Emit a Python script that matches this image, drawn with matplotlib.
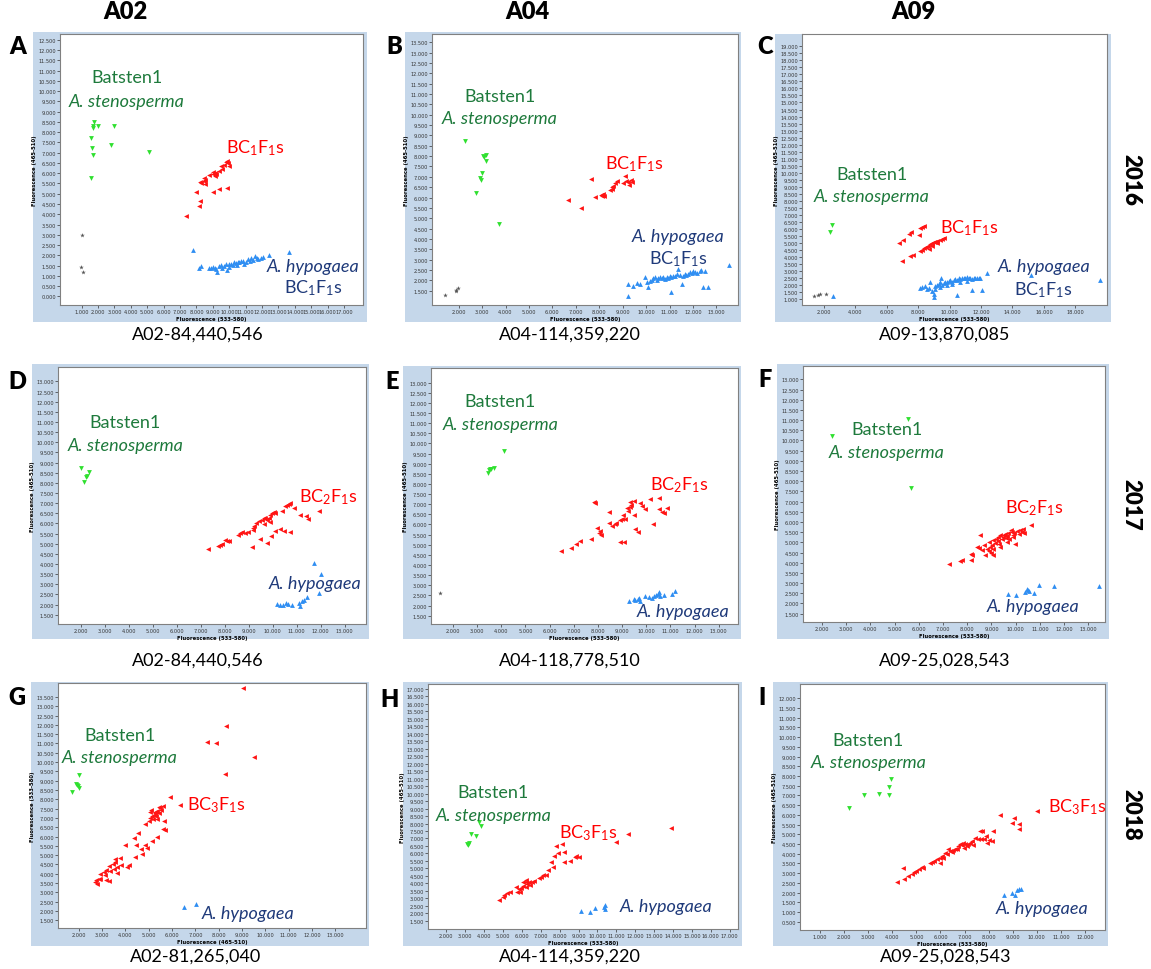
import matplotlib
matplotlib.use("Agg")
import matplotlib.pyplot as plt
from matplotlib.patches import Rectangle
from matplotlib.ticker import FuncFormatter

plt.rcParams['font.family'] = ['Lato', 'DejaVu Sans']
plt.rcParams['mathtext.fontset'] = 'custom'
plt.rcParams['mathtext.rm'] = 'Lato'
plt.rcParams['mathtext.it'] = 'Lato:italic'
plt.rcParams['mathtext.bf'] = 'Lato:bold'

W, H = 1151, 970

columns = ['A02', 'A04', 'A09']
years = ['2016', '2017', '2018']
letters = ['A', 'B', 'C', 'D', 'E', 'F', 'G', 'H', 'I']
markers_snp = ['A02-84,440,546', 'A04-114,359,220', 'A09-13,870,085',
               'A02-84,440,546', 'A04-118,778,510', 'A09-25,028,543',
               'A02-81,265,040', 'A04-114,359,220', 'A09-25,028,543']
generations = ['BC$_1$F$_1$s', 'BC$_2$F$_1$s', 'BC$_3$F$_1$s']

# fluorescence readings (x, y) per panel and genotype group
a_sten = [(1770, 8470), (1670, 8280), (1680, 8200), (2030, 8280), (2980, 8280), (1550, 7710), (1610, 7220),
          (1710, 6880), (2820, 7390), (5090, 7010), (1590, 5760)]
a_ntc = [(1000, 2990), (980, 1410), (1100, 1170)]
a_bc = [(7380, 3900), (7980, 5070), (8130, 4420), (8190, 4660), (8290, 5520), (8430, 5630), (8430, 5750),
        (8550, 5470), (8510, 5680), (8790, 5930), (9000, 5960), (9100, 6010), (9200, 5960), (9160, 5880),
        (9400, 6120), (9500, 6330), (9560, 6200), (9700, 6400), (9870, 6610), (9910, 6490), (9970, 6330),
        (9810, 6560), (9000, 5100), (9400, 5230), (9870, 5280), (8190, 5580), (9000, 6040)]
a_hyp = [(7780, 2270), (8150, 1360), (8250, 1460), (8790, 1400), (8900, 1360), (9000, 1450), (9100, 1400),
         (9240, 1170), (9400, 1460), (9500, 1530), (9560, 1360), (9700, 1490), (9810, 1560), (9870, 1300),
         (9970, 1560), (10110, 1590), (10210, 1530), (10310, 1660), (10410, 1620), (10510, 1690), (10620, 1660),
         (10720, 1740), (10820, 1700), (11020, 1660), (11120, 1820), (11260, 1720), (11320, 1850), (11430, 1790),
         (11590, 1950), (11670, 1880), (11730, 1820), (11930, 1850), (12030, 1920), (12440, 2010), (13610, 2180),
         (9200, 1330), (10010, 1410), (10470, 1530), (10920, 1580)]

b_sten = [(2260, 8710), (3040, 8020), (3180, 8050), (3090, 7940), (3180, 7750), (3010, 7180), (2920, 6940),
          (2970, 6850), (2740, 6200), (3730, 4740)]
b_ntc = [(1430, 1310), (1900, 1530), (1960, 1630), (1870, 1470)]
b_bc = [(6660, 5880), (7210, 5490), (7650, 6890), (7820, 6040), (8060, 6120), (8150, 6170), (8200, 6060),
        (8130, 6090), (8460, 6360), (8530, 6490), (8600, 6570), (8670, 6700), (8740, 6810), (8560, 6410),
        (9100, 7060), (9130, 6810), (9240, 6770), (9340, 6860), (9380, 6730), (9280, 6610), (9030, 6700)]
b_hyp = [(9240, 1820), (9450, 1740), (9240, 1260), (9740, 1820), (9950, 2140), (10020, 1900), (10060, 1690),
         (10160, 1980), (10300, 2100), (10450, 2030), (10590, 2140), (10730, 2140), (10870, 2140), (11010, 2190),
         (11160, 2230), (11300, 2310), (11340, 2550), (11440, 2260), (11580, 2230), (11510, 1820), (11720, 2260),
         (11870, 2390), (12010, 2470), (12150, 2350), (12290, 2470), (12360, 2520), (12500, 2430), (12430, 1660),
         (12650, 1660), (11080, 1420), (9590, 1850), (13540, 2740), (10230, 2030), (10380, 2140), (10520, 2100),
         (10660, 2100), (10800, 2060), (10940, 2100), (11080, 2140), (11230, 2190), (11650, 2310), (11790, 2310),
         (11940, 2340), (12080, 2420)]

c_sten = [(2530, 6270), (2420, 5750)]
c_ntc = [(1360, 1190), (1620, 1290), (1750, 1360), (2150, 1330)]
c_bc = [(6770, 4970), (7040, 5230), (7400, 5630), (7570, 5800), (6980, 3730), (7470, 4040), (7680, 4140),
        (8140, 4400), (8250, 4520), (8400, 4610), (8530, 4730), (8630, 4800), (8780, 4900), (8890, 4970),
        (8990, 5040), (9100, 5090), (9200, 5130), (9370, 5200), (9520, 5280), (9630, 5320), (8250, 6150),
        (8400, 6230), (8140, 6040), (8040, 5560), (8670, 4560), (8890, 4750), (9200, 4990)]
c_hyp = [(2590, 1190), (8100, 1760), (8250, 1830), (8460, 1900), (8670, 1760), (8780, 2240), (8890, 1590),
         (8990, 1360), (9030, 1170), (9100, 1900), (9200, 2000), (9310, 2070), (9420, 2190), (9460, 2470),
         (9520, 2000), (9630, 2140), (9730, 2190), (9840, 2240), (9950, 2280), (10050, 2330), (10160, 2240),
         (10260, 2330), (10370, 2430), (10480, 2380), (10580, 2470), (10690, 2430), (10790, 2520), (10900, 2470),
         (11000, 2520), (11110, 2540), (11220, 2470), (11320, 2520), (11430, 2430), (11530, 2470), (11640, 2520),
         (11750, 2470), (11850, 2520), (11960, 2520), (12380, 2850), (12060, 1670), (11430, 1670), (10480, 1290),
         (9420, 1830), (9840, 2000), (15200, 2710), (19590, 2350), (9100, 1710), (8570, 1710), (10160, 2070),
         (10690, 2190), (11110, 2310)]

d_sten = [(2030, 8720), (2130, 8060), (2270, 8360), (2350, 8520), (2210, 8280)]
d_bc = [(7320, 4740), (7740, 4910), (7810, 4940), (7880, 4990), (8020, 5180), (8090, 5120), (8160, 5150),
        (8570, 5450), (8640, 5530), (8710, 5560), (8850, 5530), (8990, 5560), (9170, 5660), (9200, 5760),
        (9230, 5890), (9310, 6010), (9410, 6110), (9550, 6190), (9620, 6250), (9690, 6290), (9760, 6190),
        (9830, 6290), (9900, 6390), (9970, 6500), (10040, 6580), (10110, 6520), (10380, 6630), (10520, 6880),
        (10590, 6910), (10660, 6960), (10730, 7010), (10870, 6760), (11120, 6420), (11400, 6350), (11460, 6220),
        (11920, 6620), (9130, 4860), (9480, 5230), (9760, 5040), (9930, 5400), (10110, 5610), (10290, 5710),
        (10480, 5610), (10710, 5580), (9900, 6090), (9620, 5970)]
d_hyp = [(10180, 2030), (10320, 1980), (10450, 1980), (10570, 2080), (10620, 2010), (10800, 1980), (11080, 2080),
         (11120, 1940), (11220, 2190), (11290, 2240), (11430, 2390), (11710, 4030), (12010, 3510), (11920, 2570)]

e_sten = [(4120, 9620), (3680, 8780), (3590, 8720), (3480, 8670), (3430, 8540), (3520, 8750)]
e_ntc = [(1480, 2600)]
e_bc = [(6480, 4710), (6900, 4840), (7100, 5040), (7240, 5170), (7710, 5260), (7820, 7100), (7890, 7070),
        (7960, 5830), (8030, 5590), (8100, 5700), (8140, 5500), (8480, 6640), (8480, 6060), (8580, 5950),
        (8690, 6030), (8760, 6060), (8900, 6230), (8990, 6280), (9030, 6490), (9130, 6280), (9200, 6810),
        (9230, 6690), (9310, 6850), (9340, 7100), (9370, 6970), (9480, 7150), (9500, 6490), (9550, 5780),
        (9640, 5650), (9750, 7070), (9820, 6900), (9960, 6770), (8920, 5160), (9090, 5120), (10140, 7270),
        (10510, 7320), (10550, 6770), (10650, 6640), (10720, 6570), (10880, 6820), (10300, 6030)]
e_hyp = [(9270, 2240), (9480, 2320), (9550, 2290), (9640, 2320), (9720, 2360), (9750, 2240), (9960, 2490),
         (10100, 2410), (10230, 2360), (10330, 2490), (10410, 2520), (10470, 2570), (10550, 2690), (10580, 2490),
         (10750, 2540), (11060, 2570), (11200, 2740)]

f_sten = [(2410, 10210), (5540, 11070), (5670, 7670)]
f_bc = [(7230, 3920), (7710, 4090), (7780, 4150), (8150, 4450), (8160, 4150), (8190, 4360), (8470, 4720),
        (8530, 5380), (8600, 4610), (8700, 4860), (8740, 4400), (8810, 4690), (8880, 5020), (8950, 4770),
        (8970, 4500), (9020, 4890), (9060, 5100), (9080, 4660), (9150, 4990), (9190, 5180), (9250, 5050),
        (9290, 5260), (9330, 4940), (9360, 5350), (9430, 5150), (9470, 5260), (9520, 5350), (9570, 5430),
        (9610, 5220), (9660, 5310), (9700, 5480), (9740, 5150), (9800, 5590), (9840, 5510), (9880, 5380),
        (9940, 5480), (9980, 4940), (10050, 5540), (10120, 5430), (10180, 5590), (10250, 5510), (10320, 5670),
        (10360, 5480), (10640, 5840), (9080, 4360), (8880, 4560), (9360, 4770), (9630, 5020), (8400, 4770),
        (9910, 5260)]
f_hyp = [(9700, 2480), (10010, 2430), (10390, 2560), (10460, 2730), (10500, 2650), (10570, 2600), (10760, 2530),
         (10980, 2890), (11600, 2840), (13460, 2840)]

g_sten = [(2000, 9300), (1900, 8850), (1960, 8720), (2000, 8620), (1710, 8400), (1930, 8790)]
g_bc = [(9040, 13960), (8330, 11930), (7500, 11090), (7900, 11050), (9530, 10300), (8270, 9350), (5930, 8100),
        (6360, 7720), (5600, 7630), (5500, 7540), (5530, 7410), (5430, 7290), (5360, 7380), (5290, 7240),
        (5210, 7150), (5140, 7090), (5070, 7000), (5040, 7320), (5000, 6840), (4830, 6700), (5640, 6820),
        (5360, 6930), (5260, 7320), (5100, 7450), (5330, 7110), (5190, 6970), (5430, 7590), (5690, 6340),
        (5610, 6430), (5360, 5980), (5140, 5750), (4860, 5530), (4930, 5390), (4710, 5050), (4470, 5530),
        (4360, 5930), (4000, 5530), (3790, 4850), (3640, 4370), (3570, 4780), (3810, 4490), (3570, 4640),
        (3470, 4550), (3500, 4280), (3290, 4420), (3190, 4190), (3070, 4100), (2930, 4010), (2860, 3740),
        (2710, 3560), (2790, 3470), (3140, 3920), (3360, 4130), (4140, 4490), (4070, 4370), (4430, 4910),
        (4670, 5320), (3640, 4060), (3290, 3600), (3190, 3650), (2930, 3700), (2760, 3650), (4530, 6200)]
g_hyp = [(6500, 2220), (7040, 2400)]

h_sten = [(3710, 8130), (3820, 7860), (3320, 7300), (3590, 7190), (3090, 6630), (3200, 6700), (3150, 6570)]
h_bc = [(4790, 2910), (5000, 3060), (5050, 3220), (5210, 3330), (5390, 3400), (5700, 3730), (5740, 3440),
        (5850, 3620), (5970, 3670), (6060, 3800), (6200, 4220), (6230, 4070), (6290, 3960), (6370, 4110),
        (6440, 3890), (6550, 4070), (6620, 4180), (6900, 4340), (7030, 4450), (7120, 4560), (7290, 4560),
        (7380, 4920), (7640, 5070), (7560, 5450), (7700, 5850), (7820, 6520), (7910, 6030), (8140, 6630),
        (8210, 6120), (8230, 5410), (8530, 5520), (8790, 5740), (8880, 5810), (9000, 5740), (11000, 6750),
        (11610, 7300), (13910, 7710), (6230, 3730), (5880, 3440), (6060, 4070)]
h_hyp = [(9110, 2170), (9580, 2060), (9850, 2330), (10330, 2390), (10380, 2550), (10410, 2280)]

i_sten = [(2220, 6330), (2830, 7010), (3460, 7100), (3880, 7030), (3860, 7440), (3930, 7870)]
i_bc = [(4180, 2550), (4460, 3250), (4490, 2720), (4670, 2850), (4800, 2940), (4900, 3060), (4980, 3110),
        (5120, 3200), (5220, 3340), (5290, 3280), (5560, 3540), (5630, 3590), (5730, 3630), (5840, 3710),
        (5980, 3800), (6050, 3890), (6120, 3800), (6190, 4060), (6260, 3970), (6300, 4260), (6390, 4140),
        (6460, 4090), (6530, 4190), (6600, 4230), (6670, 4260), (6740, 4400), (6810, 4490), (6880, 4440),
        (6950, 4570), (7020, 4490), (7090, 4400), (7160, 4490), (7220, 4570), (7290, 4660), (7430, 4830),
        (7570, 4740), (7640, 5170), (7710, 5170), (7670, 4740), (7810, 4780), (7890, 4920), (7920, 4570),
        (8030, 4710), (8120, 4660), (8190, 5170), (8470, 6000), (8980, 5600), (9050, 5860), (9270, 5550),
        (9270, 5260), (9990, 6200), (6980, 4310), (7360, 4440), (5980, 3540)]
i_hyp = [(8650, 1880), (8950, 2000), (9090, 1880), (9190, 2130), (9270, 2200), (9330, 2200)]

GREEN_PT, RED_PT, BLUE_PT, GREY_PT = '#2fe02f', '#ff1414', '#2f8ef2', '#555555'
GREEN_TX, RED_TX, NAVY_TX = '#1e7a3c', '#ff0000', '#1f3a7a'
FRAME = '#c5d7ea'


def fig_rect(x0, y0, x1, y1):
    return [x0 / W, 1 - y1 / H, (x1 - x0) / W, (y1 - y0) / H]


# pixel layout of each screenshot: frame box, plot box, axis limits, tick ranges, label positions
panels = [
    dict(sten=a_sten, bc=a_bc, hyp=a_hyp, ntc=a_ntc, gen=0, hyp_gen=True,
         frame=(33, 33, 367, 323), box=(60, 35, 363, 306), xlim=(-316, 18150), ylim=(-420, 12780),
         xt=(1000, 17000, 1000), yt=(0, 12500, 500),
         pos=[(0.22, 0.84), (0.22, 0.754), (0.644, 0.582), (0.836, 0.145), (0.836, 0.065)]),
    dict(sten=b_sten, bc=b_bc, hyp=b_hyp, ntc=b_ntc, gen=0, hyp_gen=True,
         frame=(405, 33, 741, 323), box=(432, 35, 738, 306), xlim=(864, 13920), ylim=(808, 13900),
         xt=(2000, 13000, 1000), yt=(1500, 13500, 500),
         pos=[(0.222, 0.772), (0.222, 0.689), (0.663, 0.524), (0.805, 0.256), (0.805, 0.172)]),
    dict(sten=c_sten, bc=c_bc, hyp=c_hyp, ntc=c_ntc, gen=0, hyp_gen=True,
         frame=(775, 35, 1111, 323), box=(802, 35, 1107, 306), xlim=(623, 20010), ylim=(572, 19880),
         xt=(2000, 18000, 2000), yt=(1000, 19000, 500),
         pos=[(0.228, 0.483), (0.228, 0.403), (0.549, 0.287), (0.793, 0.143), (0.793, 0.059)]),
    dict(sten=d_sten, bc=d_bc, hyp=d_hyp, ntc=[], gen=1, hyp_gen=False,
         frame=(32, 365, 369, 640), box=(58, 368, 366, 625), xlim=(1053, 13890), ylim=(1040, 13710),
         xt=(2000, 13000, 1000), yt=(1500, 13000, 500),
         pos=[(0.218, 0.785), (0.218, 0.698), (0.878, 0.499), (0.834, 0.16)]),
    dict(sten=e_sten, bc=e_bc, hyp=e_hyp, ntc=e_ntc, gen=1, hyp_gen=False,
         frame=(403, 367, 741, 640), box=(431, 369, 738, 625), xlim=(1090, 13800), ylim=(1088, 13725),
         xt=(2000, 13000, 1000), yt=(1500, 13000, 500),
         pos=[(0.225, 0.872), (0.225, 0.781), (0.808, 0.547), (0.822, 0.052)]),
    dict(sten=f_sten, bc=f_bc, hyp=f_hyp, ntc=[], gen=1, hyp_gen=False,
         frame=(777, 365, 1109, 640), box=(803, 367, 1105, 623), xlim=(1216, 13690), ylim=(1090, 13655),
         xt=(2000, 13000, 1000), yt=(1500, 13000, 500),
         pos=[(0.277, 0.754), (0.277, 0.663), (0.765, 0.448), (0.763, 0.061)]),
    dict(sten=g_sten, bc=g_bc, hyp=g_hyp, ntc=[], gen=2, hyp_gen=False,
         frame=(31, 683, 369, 947), box=(58, 684, 366, 929), xlim=(1114, 14310), ylim=(1088, 14250),
         xt=(2000, 13000, 1000), yt=(1500, 13500, 500),
         pos=[(0.201, 0.788), (0.201, 0.697), (0.513, 0.506), (0.618, 0.06)]),
    dict(sten=h_sten, bc=h_bc, hyp=h_hyp, ntc=[], gen=2, hyp_gen=False,
         frame=(403, 683, 742, 947), box=(428, 685, 738, 930), xlim=(1030, 17440), ylim=(942, 17335),
         xt=(2000, 17000, 1000), yt=(1500, 17000, 500),
         pos=[(0.211, 0.558), (0.211, 0.467), (0.517, 0.395), (0.768, 0.095)]),
    dict(sten=i_sten, bc=i_bc, hyp=i_hyp, ntc=[], gen=2, hyp_gen=False,
         frame=(773, 683, 1108, 947), box=(800, 685, 1105, 931), xlim=(170, 12830), ylim=(70, 12740),
         xt=(1000, 12000, 1000), yt=(500, 12000, 500),
         pos=[(0.224, 0.774), (0.224, 0.682), (0.909, 0.505), (0.792, 0.088)]),
]

fig = plt.figure(figsize=(W / 100, H / 100), dpi=100)
fmt = FuncFormatter(lambda v, p: f"{v / 1000:.3f}")

for k, p in enumerate(panels):
    x0, y0, x1, y1 = p['frame']
    fig.patches.append(Rectangle((x0 / W, 1 - y1 / H), (x1 - x0) / W, (y1 - y0) / H,
                                 transform=fig.transFigure, facecolor=FRAME, edgecolor='none', zorder=-5))
    ax = fig.add_axes(fig_rect(*p['box']))
    ax.set_zorder(1)
    ax.set_facecolor('white')
    for s in ax.spines.values():
        s.set_color('#808080')
        s.set_linewidth(0.8)

    groups = [(p['sten'], 'v', GREEN_PT), (p['bc'], '<', RED_PT), (p['hyp'], '^', BLUE_PT), (p['ntc'], '*', GREY_PT)]
    for pts, m, c in groups:
        if pts:
            xs = [q[0] for q in pts]
            ys = [q[1] for q in pts]
            ax.scatter(xs, ys, marker=m, s=12, color=c, linewidths=0, zorder=3)

    ax.set_xlim(*p['xlim'])
    ax.set_ylim(*p['ylim'])
    ax.set_xticks(range(p['xt'][0], p['xt'][1] + 1, p['xt'][2]))
    ax.set_yticks(range(p['yt'][0], p['yt'][1] + 1, p['yt'][2]))
    ax.xaxis.set_major_formatter(fmt)
    ax.yaxis.set_major_formatter(fmt)
    ax.tick_params(labelsize=3.6, length=2, width=0.5, pad=1, colors='#333333')
    for lab in ax.get_xticklabels() + ax.get_yticklabels():
        lab.set_family('DejaVu Sans')
    xl, yl = ('Fluorescence (465-510)', 'Fluorescence (533-580)') if k == 6 else \
        ('Fluorescence (533-580)', 'Fluorescence (465-510)')
    ax.set_xlabel(xl, fontsize=3.8, fontweight='bold', labelpad=1, family='DejaVu Sans')
    ax.set_ylabel(yl, fontsize=3.8, fontweight='bold', labelpad=1, family='DejaVu Sans')

    pos = p['pos']
    ax.text(*pos[0], 'Batsten1', transform=ax.transAxes, ha='center', va='center', color=GREEN_TX, fontsize=13)
    ax.text(*pos[1], 'A. stenosperma', transform=ax.transAxes, ha='center', va='center', color=GREEN_TX,
            fontsize=13, style='italic')
    ax.text(*pos[2], generations[p['gen']], transform=ax.transAxes, ha='center', va='center', color=RED_TX,
            fontsize=13)
    ax.text(*pos[3], 'A. hypogaea', transform=ax.transAxes, ha='center', va='center', color=NAVY_TX,
            fontsize=13, style='italic')
    if p['hyp_gen']:
        ax.text(*pos[4], generations[0], transform=ax.transAxes, ha='center', va='center', color=NAVY_TX,
                fontsize=13)

# panel letters
letter_px = [(18, 47), (394, 47), (765, 47), (17, 382), (392, 382), (765, 380), (17, 698), (390, 700), (762, 698)]
for lt, (px, py) in zip(letters, letter_px):
    fig.text(px / W, 1 - py / H, lt, ha='center', va='center', fontsize=17, fontweight='heavy')

# SNP marker names under each plot
name_px = [(198, 335), (570, 335), (945, 335), (198, 661), (570, 661), (945, 661), (196, 957), (570, 957),
           (946, 957)]
for nm, (px, py) in zip(markers_snp, name_px):
    fig.text(px / W, 1 - py / H, nm, ha='center', va='center', fontsize=13)

for col, px in zip(columns, [125, 527, 913]):
    fig.text(px / W, 1 - 12 / H, col, ha='center', va='center', fontsize=17, fontweight='heavy')

for yr, py in zip(years, [180, 505, 815]):
    fig.text(1131 / W, 1 - py / H, yr, ha='center', va='center', fontsize=16, fontweight='heavy', rotation=270)

fig.savefig('out.png', dpi=100)
